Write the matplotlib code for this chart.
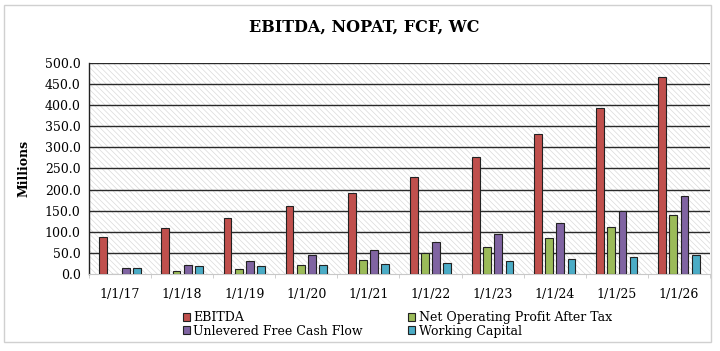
import matplotlib
matplotlib.use("Agg")
import matplotlib.pyplot as plt
from matplotlib.patches import Rectangle
import numpy as np

# data (millions)
dates = ["1/1/17", "1/1/18", "1/1/19", "1/1/20", "1/1/21",
         "1/1/22", "1/1/23", "1/1/24", "1/1/25", "1/1/26"]
ebitda = [88, 108, 133, 160, 193, 230, 277, 331, 393, 466]
nopat = [0, 7, 13, 22, 33, 50, 64, 85, 111, 139]
fcf = [15, 22, 31, 45, 58, 75, 95, 121, 149, 185]
wc = [15, 18, 20, 22, 24, 26, 31, 35, 40, 45]

names = ["EBITDA", "Net Operating Profit After Tax",
         "Unlevered Free Cash Flow", "Working Capital"]
colors = ["#C0504D", "#9BBB59", "#8064A2", "#4BACC6"]

plt.rcParams['font.family'] = ['DejaVu Serif']
plt.rcParams['hatch.linewidth'] = 0.5
plt.rcParams['hatch.color'] = '#dadada'

fig = plt.figure(figsize=(7.2, 3.51), dpi=100)
ax = fig.add_axes([0.1236, 0.2194, 0.8625, 0.6011])

# hatched plot background
ax.add_patch(Rectangle((0, 0), 1, 1, transform=ax.transAxes, facecolor='white',
                       edgecolor='#dadada', hatch='\\' * 6, linewidth=0, zorder=0))

x = np.arange(len(dates))
w = 0.125
step = 0.18
bars = []
for i, (vals, c) in enumerate(zip([ebitda, nopat, fcf, wc], colors)):
    b = ax.bar(x + (i - 1.5) * step, vals, w, color=c, edgecolor='#222222',
               linewidth=0.8, label=names[i], zorder=3)
    bars.append(b)

ax.set_xlim(-0.5, len(dates) - 0.5)
ax.set_ylim(0, 500)
ax.set_yticks(np.arange(0, 501, 50))
ax.set_yticklabels([f"{v:.1f}" for v in np.arange(0, 501, 50)], fontsize=9)
ax.set_xticks(x)
ax.set_xticklabels(dates, fontsize=9)
ax.tick_params(axis='x', length=0, pad=10)
ax.tick_params(axis='y', length=0, pad=6)
ax.set_xticks(np.arange(-0.5, len(dates), 1), minor=True)
ax.tick_params(axis='x', which='minor', length=3, color='#c8c8c8')

for v in np.arange(50, 501, 50):
    ax.axhline(v, color='#2a2a2a', linewidth=1.0, zorder=1)

for s in ['top', 'right']:
    ax.spines[s].set_visible(False)
ax.spines['left'].set_color('#222222')
ax.spines['left'].set_linewidth(1.0)
ax.spines['bottom'].set_color('#c8c8c8')

ax.set_ylabel("Millions", fontsize=9, fontweight='bold', labelpad=10)
fig.text(0.506, 0.923, "EBITDA, NOPAT, FCF, WC", ha='center', va='center',
         fontsize=11.5, fontweight='bold')

order = [0, 2, 1, 3]
fig.legend([bars[i] for i in order], [names[i] for i in order], ncol=2,
           loc='center left', bbox_to_anchor=(0.245, 0.076), frameon=False,
           fontsize=9, handlelength=0.6, handleheight=0.6, handletextpad=0.25,
           columnspacing=3.6, labelspacing=0.05, borderpad=0)

# light frame around the whole chart
fig.patches.append(Rectangle((0.005, 0.026), 0.983, 0.96, transform=fig.transFigure,
                             fill=False, edgecolor='#d0d0d0', linewidth=1.0))

fig.savefig("out.png", dpi=100)
